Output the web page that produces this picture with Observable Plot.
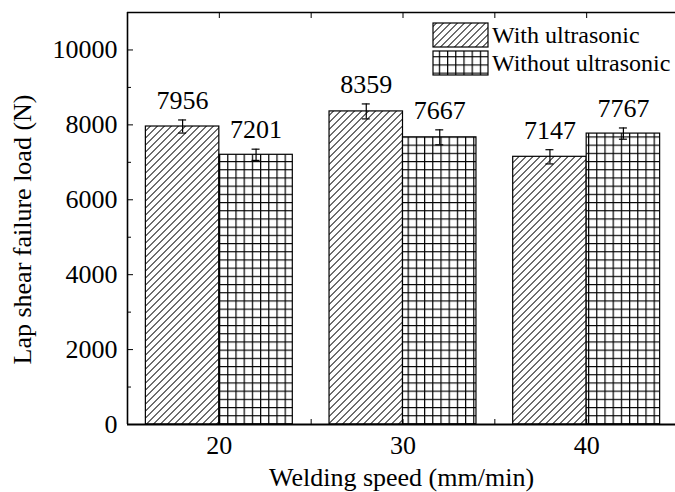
<!DOCTYPE html>
<html>
<head>
<meta charset="utf-8">
<script src="https://cdn.jsdelivr.net/npm/d3@7"></script>
<script src="https://cdn.jsdelivr.net/npm/@observablehq/plot@0.6"></script>
<style>
  body { margin: 0; background: white; }
  #chart svg { overflow: hidden; }
</style>
</head>
<body>
<div id="chart"></div>
<script>
// ---- data ----
const speeds = [20, 30, 40];
const seriesNames = ["With ultrasonic", "Without ultrasonic"];
const withUltrasonic = [7956, 8359, 7147];
const withoutUltrasonic = [7201, 7667, 7767];
const withErr = [175, 200, 190];
const withoutErr = [150, 200, 150];
const yMajorTicks = [0, 2000, 4000, 6000, 8000, 10000];
const yMinorTicks = [1000, 3000, 5000, 7000, 9000];
const xMinorTicks = [20, 25, 30, 35, 40];
const xLabel = "Welding speed (mm/min)";
const yLabel = "Lap shear failure load (N)";

// ---- table ----
const barW = 4; // bar width in x units
const rows = [];
speeds.forEach((s, i) => {
  rows.push({speed: s, series: seriesNames[0], value: withUltrasonic[i], err: withErr[i], x1: s - barW, x2: s});
  rows.push({speed: s, series: seriesNames[1], value: withoutUltrasonic[i], err: withoutErr[i], x1: s, x2: s + barW});
});
rows.forEach(d => { d.cx = (d.x1 + d.x2) / 2; });

const font = "'Liberation Serif', 'Times New Roman', serif";
const fs = 26;

const chart = Plot.plot({
  width: 675,
  height: 492,
  marginLeft: 127,
  marginRight: 0,
  marginTop: 12,
  marginBottom: 68,
  style: {fontFamily: font, fontSize: fs + "px", color: "black", background: "white"},
  x: {domain: [15, 45], range: [127, 678]},
  y: {domain: [0, 11000]},
  marks: [
    Plot.rectY(rows.filter(d => d.series === seriesNames[0]), {
      x1: "x1", x2: "x2", y1: 0, y2: "value",
      fill: "url(#hatch)", stroke: "black", strokeWidth: 1.2
    }),
    Plot.rectY(rows.filter(d => d.series === seriesNames[1]), {
      x1: "x1", x2: "x2", y1: 0, y2: "value",
      fill: "url(#grid)", stroke: "black", strokeWidth: 1.2
    }),
    // error bars
    Plot.ruleX(rows, {x: "cx", y1: d => d.value - d.err, y2: d => d.value + d.err, stroke: "black", strokeWidth: 1.2}),
    Plot.ruleY(rows, {x1: "cx", x2: "cx", y: d => d.value - d.err, insetLeft: -4, insetRight: -4, stroke: "black", strokeWidth: 1.2}),
    Plot.ruleY(rows, {x1: "cx", x2: "cx", y: d => d.value + d.err, insetLeft: -4, insetRight: -4, stroke: "black", strokeWidth: 1.2}),
    // value labels
    Plot.text(rows, {x: "cx", y: d => d.value + d.err, text: d => String(d.value), dy: -11, lineAnchor: "bottom", fontSize: fs, fill: "black"}),
    // axes
    Plot.axisY({ticks: yMajorTicks, tickSize: -6, tickPadding: 16, tickFormat: d => String(d), fontSize: fs, label: null}),
    Plot.axisY({ticks: yMinorTicks, tickSize: -4, text: null, label: null}),
    Plot.axisX({ticks: speeds, tickSize: 0, tickPadding: 11, tickFormat: d => String(d), fontSize: fs, label: null}),
    Plot.axisX({ticks: xMinorTicks, tickSize: -5, text: null, label: null}),
    Plot.axisX({anchor: "top", ticks: xMinorTicks, tickSize: -5, text: null, label: null}),
    // frame lines
    Plot.ruleY([0], {stroke: "black", strokeWidth: 2.2}),
    Plot.ruleY([11000], {stroke: "black", strokeWidth: 1.5}),
    Plot.ruleX([15], {stroke: "black", strokeWidth: 1.6}),
    // axis titles
    Plot.text([xLabel], {text: d => d, frameAnchor: "bottom", dy: 53, lineAnchor: "middle", textAnchor: "middle", fontSize: fs, fill: "black"}),
    Plot.text([yLabel], {text: d => d, frameAnchor: "left", dx: -105, dy: 11, rotate: -90, textAnchor: "middle", lineAnchor: "middle", fontSize: fs, fill: "black"})
  ]
});

const svg = d3.select(chart);
const defs = svg.insert("defs", ":first-child");
const hatch = defs.append("pattern")
  .attr("id", "hatch").attr("patternUnits", "userSpaceOnUse")
  .attr("width", 4.95).attr("height", 10)
  .attr("patternTransform", "rotate(45)");
hatch.append("rect").attr("width", 4.95).attr("height", 10).attr("fill", "white");
hatch.append("line").attr("x1", 2.5).attr("x2", 2.5).attr("y1", 0).attr("y2", 10)
  .attr("stroke", "black").attr("stroke-width", 0.9);
const g = 8.2;
const grid = defs.append("pattern")
  .attr("id", "grid").attr("patternUnits", "userSpaceOnUse")
  .attr("x", 219).attr("y", 424 - 0.6)
  .attr("width", g).attr("height", g);
grid.append("rect").attr("width", g).attr("height", g).attr("fill", "white");
grid.append("path").attr("d", `M0,0.6H${g}M0.6,0V${g}`)
  .attr("stroke", "black").attr("stroke-width", 1.2).attr("fill", "none");

// legend
const leg = svg.append("g").attr("transform", "translate(433,23)");
const legFills = ["url(#hatch)", "url(#grid)"];
seriesNames.forEach((name, i) => {
  const row = leg.append("g").attr("transform", `translate(0,${i * 28})`);
  row.append("rect").attr("width", 55).attr("height", 24)
    .attr("fill", legFills[i]).attr("stroke", "black").attr("stroke-width", 1.2);
  row.append("text").attr("x", 59).attr("y", 20)
    .attr("text-anchor", "start")
    .attr("font-family", font).attr("font-size", 24).attr("fill", "black")
    .text(name);
});

document.getElementById("chart").appendChild(chart);
</script>
</body>
</html>
